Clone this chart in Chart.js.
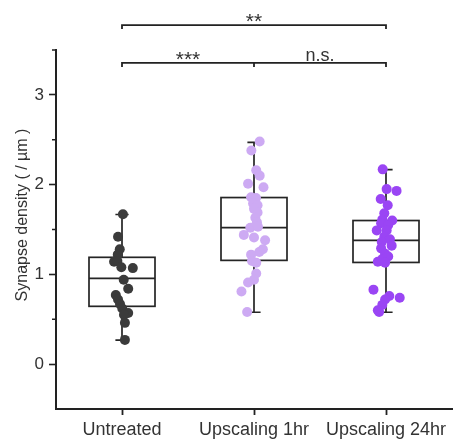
<!DOCTYPE html>
<html><head><meta charset="utf-8">
<script src="https://cdn.jsdelivr.net/npm/chart.js@4.4.1/dist/chart.umd.min.js"></script>
<style>html,body{margin:0;padding:0;background:#fff}#wrap{width:457px;height:445px}</style>
</head><body><div id="wrap"><canvas id="c"></canvas></div>
<script>
const categories = ['Untreated', 'Upscaling 1hr', 'Upscaling 24hr'];
const yTicks = [0, 1, 2, 3];
const yMinorTicks = [0.5, 1.5, 2.5, 3.5];
const yTitle = 'Synapse density ( / \u00b5m )';

// individual points: value and horizontal jitter (in category units)
const untreatedVals = [1.67,1.42,1.28,1.22,1.14,1.15,1.08,1.07,0.94,0.84,0.77,0.72,0.67,0.62,0.57,0.55,0.46,0.27];
const untreatedJit  = [0.007,-0.03,-0.017,-0.032,-0.06,-0.035,-0.005,0.082,0.013,0.047,-0.047,-0.03,-0.015,0.002,0.047,0.015,0.022,0.022];
const up1Vals = [2.48,2.38,2.16,2.10,2.01,1.97,1.86,1.85,1.79,1.77,1.73,1.69,1.63,1.58,1.52,1.53,1.44,1.41,1.38,1.28,1.25,1.22,1.15,1.13,1.01,0.94,0.91,0.81,0.58];
const up1Jit  = [0.043,-0.02,0.017,0.043,-0.045,0.072,-0.022,0.015,-0.007,0.027,0,0.027,0.01,0.022,-0.028,0.03,-0.077,0,0.084,0.067,0.04,-0.022,-0.015,0.017,0.017,0,-0.045,-0.095,-0.052];
const up24Vals = [2.17,1.95,1.93,1.84,1.77,1.68,1.61,1.60,1.57,1.55,1.49,1.49,1.42,1.39,1.36,1.32,1.29,1.23,1.20,1.17,1.14,1.13,0.83,0.76,0.74,0.72,0.66,0.58,0.60];
const up24Jit  = [-0.025,0.005,0.08,-0.04,0.013,-0.013,-0.028,0.047,-0.037,0.017,-0.07,0.005,-0.013,0.03,-0.032,0.043,-0.037,-0.007,0.017,-0.028,-0.062,-0.007,-0.095,0.025,0.104,-0.007,-0.028,-0.052,-0.062];

// box statistics per category
const boxQ1 = [0.644, 1.156, 1.133];
const boxMedian = [0.955, 1.52, 1.378];
const boxQ3 = [1.19, 1.856, 1.6];
const whiskerLow = [0.267, 0.578, 0.578];
const whiskerHigh = [1.667, 2.47, 2.167];

// significance brackets: [from, to, level value]
const sigBrackets = [[0, 2, 3.778], [0, 2, 3.356]];
const sigLabels = [['**', 1, 3.778], ['***', 0.5, 3.356], ['n.s.', 1.5, 3.356]];

const colors = ['#3b3b3b', '#cdaaf3', '#9a45f4'];
const FONT = '"Liberation Sans", Arial, sans-serif';

function pts(vals, jit, cat) { return vals.map((v, i) => ({x: cat + jit[i], y: v})); }

const boxPlugin = {
  id: 'boxes',
  beforeDatasetsDraw(chart) {
    const {ctx, scales: {x, y}} = chart;
    ctx.save();
    ctx.strokeStyle = '#252525';
    ctx.lineWidth = 1.7;
    for (let i = 0; i < categories.length; i++) {
      const xl = x.getPixelForValue(i - 0.25), xr = x.getPixelForValue(i + 0.25), xc = x.getPixelForValue(i);
      const capL = x.getPixelForValue(i - 0.05), capR = x.getPixelForValue(i + 0.05);
      const q1 = y.getPixelForValue(boxQ1[i]), q3 = y.getPixelForValue(boxQ3[i]), md = y.getPixelForValue(boxMedian[i]);
      const lo = y.getPixelForValue(whiskerLow[i]), hi = y.getPixelForValue(whiskerHigh[i]);
      ctx.strokeRect(xl, q3, xr - xl, q1 - q3);
      ctx.beginPath();
      ctx.moveTo(xl, md); ctx.lineTo(xr, md);
      ctx.moveTo(xc, q3); ctx.lineTo(xc, hi);
      ctx.moveTo(xc, q1); ctx.lineTo(xc, lo);
      ctx.moveTo(capL, hi); ctx.lineTo(capR, hi);
      ctx.moveTo(capL, lo); ctx.lineTo(capR, lo);
      ctx.stroke();
    }
    ctx.restore();
  },
  afterDraw(chart) {
    const {ctx, scales: {x, y}} = chart;
    ctx.save();
    ctx.strokeStyle = '#222';
    ctx.lineWidth = 1.6;
    // minor y ticks
    const ax = chart.chartArea.left;
    ctx.beginPath();
    yMinorTicks.forEach(v => { const p = y.getPixelForValue(v); ctx.moveTo(ax - 4, p); ctx.lineTo(ax, p); });
    ctx.stroke();
    // brackets
    ctx.lineWidth = 1.8;
    sigBrackets.forEach(([a, b, v]) => {
      const xa = x.getPixelForValue(a), xb = x.getPixelForValue(b), py = y.getPixelForValue(v);
      ctx.beginPath();
      ctx.moveTo(xa, py + 4); ctx.lineTo(xa, py); ctx.lineTo(xb, py); ctx.lineTo(xb, py + 4);
      ctx.stroke();
    });
    { const xm = x.getPixelForValue(1), py = y.getPixelForValue(sigBrackets[1][2]);
      ctx.beginPath(); ctx.moveTo(xm, py); ctx.lineTo(xm, py + 4); ctx.stroke(); }
    ctx.fillStyle = '#333';
    ctx.textAlign = 'center';
    ctx.textBaseline = 'alphabetic';
    sigLabels.forEach(([t, cx, v]) => {
      const px = x.getPixelForValue(cx), py = y.getPixelForValue(v);
      if (t === 'n.s.') { ctx.font = '18px ' + FONT; ctx.fillText(t, px, py - 2); }
      else { ctx.font = '21px ' + FONT; ctx.fillText(t, px, py + 3); }
    });
    // y title
    ctx.save();
    ctx.translate(23, 215);
    ctx.rotate(-Math.PI / 2);
    ctx.font = '16px ' + FONT;
    ctx.textBaseline = 'middle';
    ctx.fillText(yTitle, 0, 0);
    ctx.restore();
    ctx.restore();
  }
};

new Chart(document.getElementById('c'), {
  type: 'scatter',
  data: {
    datasets: [
      {data: pts(untreatedVals, untreatedJit, 0), backgroundColor: colors[0]},
      {data: pts(up1Vals, up1Jit, 1), backgroundColor: colors[1]},
      {data: pts(up24Vals, up24Jit, 2), backgroundColor: colors[2]}
    ]
  },
  options: {
    responsive: true, maintainAspectRatio: false, animation: false,
    layout: {padding: {top: 50, right: 0, left: 0, bottom: 0}},
    elements: {point: {radius: 5, borderWidth: 0, hoverRadius: 5}},
    plugins: {legend: {display: false}, tooltip: {enabled: false}},
    scales: {
      x: {
        type: 'linear', min: -0.5, max: 2.5,
        afterBuildTicks: s => { s.ticks = categories.map((c, i) => ({value: i})); },
        afterFit: s => { s.height = 36; },
        ticks: {callback: v => categories[v], color: '#333', font: {size: 18, family: FONT}, padding: 4, maxRotation: 0, autoSkip: false},
        grid: {drawOnChartArea: false, tickLength: 6, tickWidth: 1.8, tickColor: '#222'},
        border: {width: 2, color: '#222'}
      },
      y: {
        min: -0.5, max: 3.5,
        afterBuildTicks: s => { s.ticks = yTicks.map(v => ({value: v})); },
        afterFit: s => { s.width = 56; },
        ticks: {color: '#333', font: {size: 17, family: FONT}, padding: 5},
        grid: {drawOnChartArea: false, tickLength: 7, tickWidth: 1.6, tickColor: '#222'},
        border: {width: 2, color: '#222'}
      }
    }
  },
  plugins: [boxPlugin]
});
</script></body></html>
